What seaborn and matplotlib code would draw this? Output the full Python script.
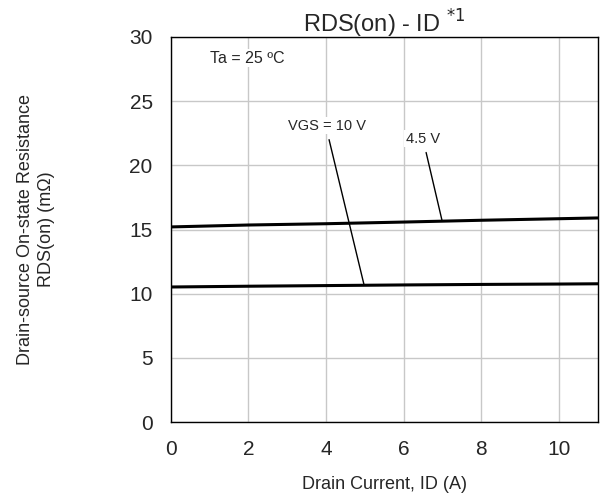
import numpy as np
import pandas as pd
import matplotlib
matplotlib.use('Agg')
import matplotlib.pyplot as plt
import seaborn as sns

# data
id_a = [0, 2, 4, 6, 8, 10, 11]
rds_10v = [10.52, 10.58, 10.63, 10.68, 10.72, 10.75, 10.77]
rds_45v = [15.2, 15.35, 15.45, 15.58, 15.72, 15.84, 15.9]
vgs_labels = ['VGS = 10 V', '4.5 V']

df = pd.DataFrame({'ID': id_a * 2,
                   'RDS': rds_10v + rds_45v,
                   'VGS': [vgs_labels[0]] * len(id_a) + [vgs_labels[1]] * len(id_a)})

sns.set_style('white')
plt.rcParams['font.family'] = ['Liberation Sans', 'DejaVu Sans']

fig = plt.figure(figsize=(6.01, 5.0), dpi=100)
ax = fig.add_axes([0.284, 0.156, 0.7105, 0.77])

sns.lineplot(data=df, x='ID', y='RDS', hue='VGS', palette=['black', 'black'],
             linewidth=2.2, legend=False, ax=ax)

ax.set_xlim(0, 11)
ax.set_ylim(0, 30)
ax.set_xticks(range(0, 11, 2))
ax.set_yticks(range(0, 31, 5))
ax.grid(True, color='#c8c8c8', linewidth=1)
ax.tick_params(labelsize=15, length=0, pad=13)
for s in ax.spines.values():
    s.set_color('black')
    s.set_linewidth(1)

ax.set_xlabel('Drain Current, ID (A)', fontsize=13, labelpad=12)
ax.set_ylabel('Drain-source On-state Resistance\nRDS(on) (mΩ)', fontsize=13,
              linespacing=1.3)
ax.yaxis.set_label_coords(-0.272, 0.5)
ax.set_title('RDS(on) - ID $^{*1}$', fontsize=17, pad=3)

box = dict(facecolor='white', edgecolor='none', pad=1)
ax.text(1.98, 28.35, 'Ta = 25 ºC', fontsize=11.5, ha='center', va='center', bbox=box)
ax.text(4.03, 23.07, vgs_labels[0], fontsize=10.5, ha='center', va='center', bbox=box)
ax.text(6.5, 22.06, vgs_labels[1], fontsize=10.5, ha='center', va='center', bbox=box)
ax.plot([4.08, 4.98], [22.0, 10.7], color='black', linewidth=1)
ax.plot([6.58, 6.99], [21.0, 15.7], color='black', linewidth=1)

fig.savefig('out.png', dpi=100)
